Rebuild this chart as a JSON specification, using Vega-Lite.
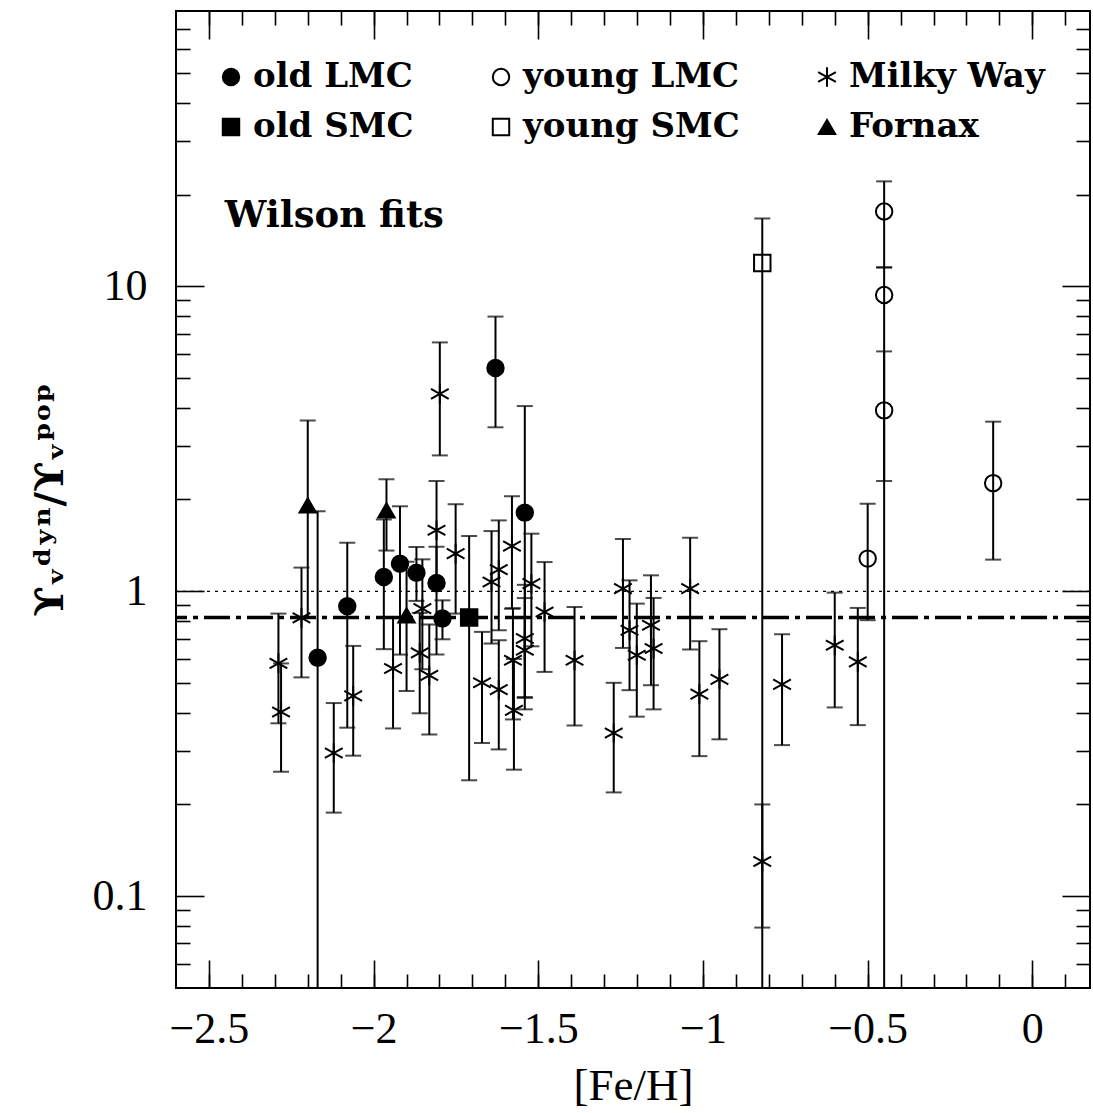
{
  "$schema": "https://vega.github.io/schema/vega-lite/v6.json",
  "width": 914,
  "height": 977,
  "autosize": "none",
  "padding": {"left": 176, "top": 11, "right": 3, "bottom": 125},
  "background": "white",
  "config": {
    "view": {"stroke": "black", "strokeWidth": 2},
    "axis": {"grid": false, "domain": false, "tickColor": "black", "tickWidth": 1.6, "labelColor": "black", "titleColor": "black"},
    "legend": {
      "padding": 0,
      "labelFont": "DejaVu Serif", "labelFontWeight": "bold", "labelFontSize": 34, "labelColor": "black",
      "symbolSize": 270, "symbolStrokeWidth": 2, "symbolStrokeColor": "black",
      "columnPadding": 70, "rowPadding": 16, "labelOffset": 5, "labelLimit": 400
    }
  },
  "data": {"values": [
    {"grp": "old LMC", "feh": -2.170, "v": 0.605, "lo": 0.02, "hi": 1.83},
    {"grp": "old LMC", "feh": -2.080, "v": 0.893, "lo": 0.357, "hi": 1.443},
    {"grp": "old LMC", "feh": -1.969, "v": 1.114, "lo": 0.646, "hi": 1.72},
    {"grp": "old LMC", "feh": -1.920, "v": 1.232, "lo": 0.62, "hi": 1.90},
    {"grp": "old LMC", "feh": -1.870, "v": 1.151, "lo": 0.93, "hi": 1.397},
    {"grp": "old LMC", "feh": -1.809, "v": 1.065, "lo": 0.62, "hi": 1.40},
    {"grp": "old LMC", "feh": -1.791, "v": 0.814, "lo": 0.696, "hi": 0.934},
    {"grp": "old LMC", "feh": -1.630, "v": 5.40, "lo": 3.45, "hi": 7.96},
    {"grp": "old LMC", "feh": -1.541, "v": 1.811, "lo": 0.447, "hi": 4.05},
    {"grp": "old SMC", "feh": -1.710, "v": 0.820, "lo": 0.240, "hi": 1.518},
    {"grp": "young LMC", "feh": -0.500, "v": 1.28, "lo": 0.804, "hi": 1.937},
    {"grp": "young LMC", "feh": -0.450, "v": 17.6, "lo": 11.54, "hi": 22.1},
    {"grp": "young LMC", "feh": -0.450, "v": 9.37, "lo": 0.02, "hi": 11.54},
    {"grp": "young LMC", "feh": -0.450, "v": 3.92, "lo": 2.30, "hi": 6.12},
    {"grp": "young LMC", "feh": -0.119, "v": 2.263, "lo": 1.27, "hi": 3.60},
    {"grp": "young SMC", "feh": -0.820, "v": 11.93, "lo": 0.02, "hi": 16.7},
    {"grp": "Fornax", "feh": -2.200, "v": 1.913, "lo": 0.82, "hi": 3.63},
    {"grp": "Fornax", "feh": -1.961, "v": 1.842, "lo": 1.36, "hi": 2.33},
    {"grp": "Fornax", "feh": -1.900, "v": 0.834, "lo": 0.471, "hi": 1.25},
    {"grp": "Milky Way", "feh": -2.289, "v": 0.580, "lo": 0.369, "hi": 0.845},
    {"grp": "Milky Way", "feh": -2.281, "v": 0.402, "lo": 0.256, "hi": 0.58},
    {"grp": "Milky Way", "feh": -2.219, "v": 0.818, "lo": 0.522, "hi": 1.196},
    {"grp": "Milky Way", "feh": -2.121, "v": 0.295, "lo": 0.188, "hi": 0.43},
    {"grp": "Milky Way", "feh": -2.062, "v": 0.454, "lo": 0.289, "hi": 0.662},
    {"grp": "Milky Way", "feh": -1.941, "v": 0.558, "lo": 0.355, "hi": 0.818},
    {"grp": "Milky Way", "feh": -1.852, "v": 0.877, "lo": 0.555, "hi": 1.273},
    {"grp": "Milky Way", "feh": -1.860, "v": 0.628, "lo": 0.398, "hi": 0.85},
    {"grp": "Milky Way", "feh": -1.831, "v": 0.530, "lo": 0.339, "hi": 0.778},
    {"grp": "Milky Way", "feh": -1.809, "v": 1.585, "lo": 1.065, "hi": 2.30},
    {"grp": "Milky Way", "feh": -1.799, "v": 4.44, "lo": 2.79, "hi": 6.55},
    {"grp": "Milky Way", "feh": -1.751, "v": 1.329, "lo": 0.845, "hi": 1.93},
    {"grp": "Milky Way", "feh": -1.671, "v": 0.501, "lo": 0.318, "hi": 0.736},
    {"grp": "Milky Way", "feh": -1.642, "v": 1.073, "lo": 0.674, "hi": 1.576},
    {"grp": "Milky Way", "feh": -1.620, "v": 1.178, "lo": 0.745, "hi": 1.708},
    {"grp": "Milky Way", "feh": -1.620, "v": 0.476, "lo": 0.303, "hi": 0.691},
    {"grp": "Milky Way", "feh": -1.580, "v": 1.407, "lo": 0.877, "hi": 2.05},
    {"grp": "Milky Way", "feh": -1.577, "v": 0.594, "lo": 0.38, "hi": 0.88},
    {"grp": "Milky Way", "feh": -1.574, "v": 0.407, "lo": 0.26, "hi": 0.60},
    {"grp": "Milky Way", "feh": -1.541, "v": 0.700, "lo": 0.45, "hi": 1.05},
    {"grp": "Milky Way", "feh": -1.541, "v": 0.641, "lo": 0.41, "hi": 0.95},
    {"grp": "Milky Way", "feh": -1.521, "v": 1.06, "lo": 0.66, "hi": 1.545},
    {"grp": "Milky Way", "feh": -1.481, "v": 0.855, "lo": 0.544, "hi": 1.247},
    {"grp": "Milky Way", "feh": -1.390, "v": 0.594, "lo": 0.363, "hi": 0.888},
    {"grp": "Milky Way", "feh": -1.271, "v": 0.343, "lo": 0.219, "hi": 0.501},
    {"grp": "Milky Way", "feh": -1.243, "v": 1.020, "lo": 0.652, "hi": 1.484},
    {"grp": "Milky Way", "feh": -1.223, "v": 0.745, "lo": 0.474, "hi": 1.086},
    {"grp": "Milky Way", "feh": -1.201, "v": 0.617, "lo": 0.388, "hi": 0.911},
    {"grp": "Milky Way", "feh": -1.158, "v": 0.774, "lo": 0.492, "hi": 1.128},
    {"grp": "Milky Way", "feh": -1.150, "v": 0.649, "lo": 0.410, "hi": 0.951},
    {"grp": "Milky Way", "feh": -1.039, "v": 1.020, "lo": 0.644, "hi": 1.499},
    {"grp": "Milky Way", "feh": -1.011, "v": 0.460, "lo": 0.288, "hi": 0.686},
    {"grp": "Milky Way", "feh": -0.950, "v": 0.514, "lo": 0.327, "hi": 0.751},
    {"grp": "Milky Way", "feh": -0.820, "v": 0.130, "lo": 0.0789, "hi": 0.200},
    {"grp": "Milky Way", "feh": -0.760, "v": 0.495, "lo": 0.313, "hi": 0.723},
    {"grp": "Milky Way", "feh": -0.600, "v": 0.665, "lo": 0.416, "hi": 0.99},
    {"grp": "Milky Way", "feh": -0.530, "v": 0.587, "lo": 0.364, "hi": 0.882}
  ]},
  "resolve": {"axis": {"x": "independent", "y": "independent"}},
  "layer": [
    {
      "mark": {"type": "rule", "color": "black", "strokeWidth": 2, "clip": true},
      "encoding": {
        "x": {"field": "feh", "type": "quantitative", "scale": {"domain": [-2.6, 0.175], "nice": false, "zero": false},
          "axis": {"orient": "bottom", "ticks": false, "values": [-2.5, -2, -1.5, -1, -0.5, 0], "format": "~g",
            "labelFont": "Liberation Serif", "labelFontSize": 44, "labelPadding": 19,
            "title": "[Fe/H]", "titleFont": "Liberation Serif", "titleFontSize": 45, "titleFontWeight": "normal", "titlePadding": 12}},
        "y": {"field": "lo", "type": "quantitative", "scale": {"type": "log", "domain": [0.05, 80], "nice": false},
          "axis": {"orient": "left", "ticks": false, "values": [0.1, 1, 10], "format": "~g",
            "labelFont": "Liberation Serif", "labelFontSize": 44, "labelPadding": 29,
            "title": "ϒᵥᵈʸⁿ/ϒᵥᵖᵒᵖ", "titleFont": "DejaVu Serif", "titleFontSize": 40, "titleFontWeight": "bold", "titlePadding": 22}},
        "y2": {"field": "hi"}
      }
    },
    {
      "mark": {"type": "tick", "orient": "horizontal", "color": "black", "size": 16, "thickness": 2, "clip": true},
      "encoding": {
        "x": {"field": "feh", "type": "quantitative", "scale": {"domain": [-2.6, 0.175], "nice": false, "zero": false},
          "axis": {"orient": "bottom", "labels": false, "title": null, "tickSize": -28, "values": [-2.5, -2, -1.5, -1, -0.5, 0]}},
        "y": {"field": "lo", "type": "quantitative", "scale": {"type": "log", "domain": [0.05, 80], "nice": false},
          "axis": {"orient": "left", "labels": false, "title": null, "tickSize": -28, "values": [0.1, 1, 10]}}
      }
    },
    {
      "mark": {"type": "tick", "orient": "horizontal", "color": "black", "size": 16, "thickness": 2, "clip": true},
      "encoding": {
        "x": {"field": "feh", "type": "quantitative", "scale": {"domain": [-2.6, 0.175], "nice": false, "zero": false},
          "axis": {"orient": "bottom", "labels": false, "title": null, "tickSize": -14,
            "values": [-2.5, -2.4, -2.3, -2.2, -2.1, -2.0, -1.9, -1.8, -1.7, -1.6, -1.5, -1.4, -1.3, -1.2, -1.1, -1.0, -0.9, -0.8, -0.7, -0.6, -0.5, -0.4, -0.3, -0.2, -0.1, 0, 0.1]}},
        "y": {"field": "hi", "type": "quantitative", "scale": {"type": "log", "domain": [0.05, 80], "nice": false},
          "axis": {"orient": "left", "labels": false, "title": null, "tickSize": -14,
            "values": [0.06, 0.07, 0.08, 0.09, 0.2, 0.3, 0.4, 0.5, 0.6, 0.7, 0.8, 0.9, 2, 3, 4, 5, 6, 7, 8, 9, 20, 30, 40, 50, 60, 70]}}
      }
    },
    {
      "mark": {"type": "point", "strokeWidth": 2, "opacity": 1, "size": 270, "clip": true},
      "encoding": {
        "x": {"field": "feh", "type": "quantitative", "scale": {"domain": [-2.6, 0.175], "nice": false, "zero": false},
          "axis": {"orient": "top", "labels": false, "title": null, "tickSize": -28, "values": [-2.5, -2, -1.5, -1, -0.5, 0]}},
        "y": {"field": "v", "type": "quantitative", "scale": {"type": "log", "domain": [0.05, 80], "nice": false},
          "axis": {"orient": "right", "labels": false, "title": null, "tickSize": -28, "values": [0.1, 1, 10]}},
        "shape": {"field": "grp", "type": "nominal", "title": null,
          "legend": {"orient": "none", "legendX": 38, "legendY": 49, "columns": 3, "direction": "horizontal", "title": null, "symbolStrokeWidth": 2},
          "scale": {"domain": ["old LMC", "young LMC", "Milky Way", "old SMC", "young SMC", "Fornax"],
            "range": ["circle", "circle", "M0,-1.2L0,1.2M-1.08,-0.6L1.08,0.6M-1.08,0.6L1.08,-0.6", "square", "square", "triangle-up"]}},
        "fill": {"field": "grp", "type": "nominal", "title": null,
          "legend": {"orient": "none", "legendX": 38, "legendY": 49, "columns": 3, "direction": "horizontal", "title": null, "symbolStrokeWidth": 2},
          "scale": {"domain": ["old LMC", "young LMC", "Milky Way", "old SMC", "young SMC", "Fornax"],
            "range": ["black", "transparent", "transparent", "black", "transparent", "black"]}},
        "stroke": {"field": "grp", "type": "nominal", "title": null,
          "legend": {"orient": "none", "legendX": 38, "legendY": 49, "columns": 3, "direction": "horizontal", "title": null, "symbolStrokeWidth": 2},
          "scale": {"domain": ["old LMC", "young LMC", "Milky Way", "old SMC", "young SMC", "Fornax"],
            "range": ["black", "black", "black", "black", "black", "black"]}}
      }
    },
    {
      "data": {"values": [{}]},
      "mark": {"type": "rule", "color": "black", "strokeWidth": 1.2, "strokeDash": [3, 5]},
      "encoding": {
        "y": {"datum": 1, "type": "quantitative", "scale": {"type": "log", "domain": [0.05, 80], "nice": false}, "axis": null}
      }
    },
    {
      "data": {"values": [{}]},
      "mark": {"type": "rule", "color": "black", "strokeWidth": 3.5, "strokeDash": [26, 6, 5, 6]},
      "encoding": {
        "y": {"datum": 0.82, "type": "quantitative", "scale": {"type": "log", "domain": [0.05, 80], "nice": false}, "axis": null}
      }
    },
    {
      "data": {"values": [{}]},
      "mark": {"type": "text", "text": "Wilson fits", "font": "DejaVu Serif", "fontWeight": "bold", "fontSize": 37, "align": "left", "baseline": "alphabetic", "color": "black"},
      "encoding": {
        "x": {"datum": -2.452, "type": "quantitative", "scale": {"domain": [-2.6, 0.175], "nice": false, "zero": false},
          "axis": {"orient": "top", "labels": false, "title": null, "tickSize": -14,
            "values": [-2.5, -2.4, -2.3, -2.2, -2.1, -2.0, -1.9, -1.8, -1.7, -1.6, -1.5, -1.4, -1.3, -1.2, -1.1, -1.0, -0.9, -0.8, -0.7, -0.6, -0.5, -0.4, -0.3, -0.2, -0.1, 0, 0.1]}},
        "y": {"datum": 15.6, "type": "quantitative", "scale": {"type": "log", "domain": [0.05, 80], "nice": false},
          "axis": {"orient": "right", "labels": false, "title": null, "tickSize": -14,
            "values": [0.06, 0.07, 0.08, 0.09, 0.2, 0.3, 0.4, 0.5, 0.6, 0.7, 0.8, 0.9, 2, 3, 4, 5, 6, 7, 8, 9, 20, 30, 40, 50, 60, 70]}}
      }
    }
  ]
}
